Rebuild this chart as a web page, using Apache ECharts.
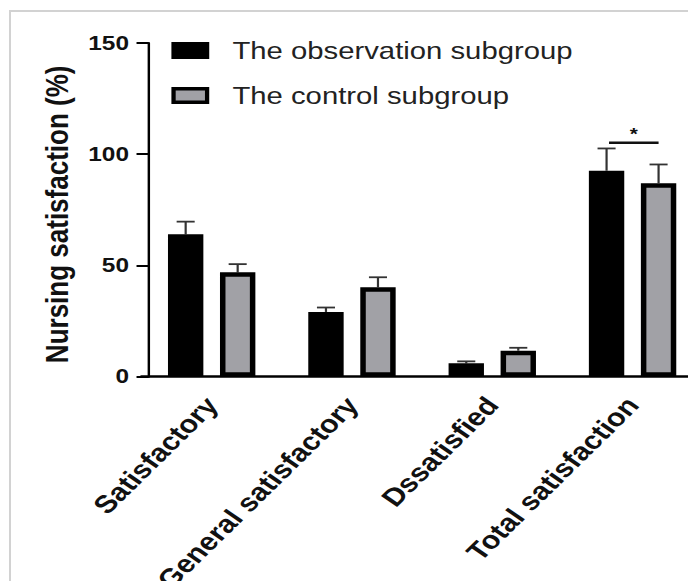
<!DOCTYPE html>
<html>
<head>
<meta charset="utf-8">
<script src="https://cdn.jsdelivr.net/npm/echarts@6/dist/echarts.min.js"></script>
<style>
  html, body { margin: 0; padding: 0; background: #fff; overflow: hidden; }
  #frame { position: absolute; left: 9px; top: 10px; width: 900px; height: 800px;
           border-left: 2px solid #d2d2d2; border-top: 2px solid #d2d2d2; }
  #chart { position: absolute; left: 0; top: 0; width: 564px; height: 581px;
           transform: scaleX(1.22); transform-origin: 0 0; }
</style>
</head>
<body>
<div id="frame"></div>
<div id="chart"></div>
<script>
// ---- data ----
const categories = ['Satisfactory', 'General satisfactory', 'Dssatisfied', 'Total satisfaction'];
const seriesNames = ['The observation subgroup', 'The control subgroup'];
const observation = [64.0, 29.1, 6.0, 92.6];
const observationSD = [5.7, 2.0, 0.9, 10.0];
const control = [46.9, 40.2, 11.7, 87.0];
const controlSD = [3.7, 4.5, 1.3, 8.4];
const yTicks = [0, 50, 100, 150];
// significance bracket: [category index, bracket level, asterisk level]
const significance = [[3, 105.2, 109.0]];

// ---- styling constants ----
const FONT = '"Liberation Sans", Arial, Helvetica, sans-serif';
const BAR_W = 29;
const BAR_GAP = 0.47;
const OFF = (BAR_W + BAR_W * BAR_GAP) / 2;
const CAP = 7.4;

const chart = echarts.init(document.getElementById('chart'), null, { renderer: 'svg' });

function errItems(vals, sds) {
  return vals.map((v, i) => [i, v, +(v + sds[i]).toFixed(2)]);
}

function makeErrRender(sign) {
  return function (params, api) {
    const i = api.value(0), v = api.value(1), up = api.value(2);
    const b = api.coord([i, v]);
    const t = api.coord([i, up]);
    const x = b[0] + sign * OFF;
    const st = { stroke: '#333', lineWidth: 1.8 };
    return {
      type: 'group',
      children: [
        { type: 'line', shape: { x1: x, y1: b[1], x2: x, y2: t[1] }, style: st },
        { type: 'line', shape: { x1: x - CAP, y1: t[1], x2: x + CAP, y2: t[1] }, style: st }
      ]
    };
  };
}

function renderSig(params, api) {
  const i = api.value(0), lv = api.value(1), sv = api.value(2);
  const p = api.coord([i, lv]);
  const s = api.coord([i, sv]);
  return {
    type: 'group',
    children: [
      { type: 'line', shape: { x1: p[0] - OFF + 2, y1: p[1], x2: p[0] + OFF, y2: p[1] },
        style: { stroke: '#111', lineWidth: 2.5 } },
      { type: 'text', x: s[0] + 1, y: s[1],
        style: { text: '*', fill: '#111', font: 'bold 17px ' + FONT, align: 'center', verticalAlign: 'middle' } }
    ]
  };
}

const option = {
  animation: false,
  grid: { left: 116, width: 460, top: 43, bottom: 204.3, containLabel: false, outerBoundsMode: 'none' },
  legend: {
    orient: 'vertical',
    left: 135.5,
    top: 33.5,
    icon: 'rect',
    itemWidth: 27.5,
    itemHeight: 13.5,
    itemGap: 21,
    itemStyle: { borderWidth: 3.5, borderColor: '#000' },
    selectedMode: false,
    textStyle: { fontFamily: FONT, fontSize: 24, lineHeight: 24, color: '#222', padding: [0, 0, 0, 15.75] },
    data: seriesNames
  },
  xAxis: {
    type: 'category',
    data: categories,
    boundaryGap: true,
    axisLine: { lineStyle: { color: '#000', width: 2.5 } },
    axisTick: { alignWithLabel: true, length: 12, lineStyle: { color: '#000', width: 2 } },
    axisLabel: { interval: 0, rotate: 50, margin: 24, fontFamily: FONT, fontSize: 25, fontWeight: 'bold', color: '#111' },
    splitLine: { show: false }
  },
  yAxis: {
    type: 'value',
    min: yTicks[0],
    max: yTicks[yTicks.length - 1],
    interval: yTicks[1] - yTicks[0],
    offset: -5.7,
    name: 'Nursing satisfaction (%)',
    nameLocation: 'middle',
    nameGap: 62,
    nameTextStyle: { fontFamily: FONT, fontSize: 26, fontWeight: 'bold', color: '#111', padding: [0, 9, 0, 0] },
    axisLine: { show: true, lineStyle: { color: '#000', width: 2 } },
    axisTick: { show: true, length: 9.8, lineStyle: { color: '#000', width: 2 } },
    axisLabel: { margin: 16, fontFamily: FONT, fontSize: 20, fontWeight: 'bold', color: '#111' },
    splitLine: { show: false }
  },
  series: [
    {
      name: seriesNames[0], type: 'bar', data: observation,
      barWidth: BAR_W, barGap: (BAR_GAP * 100) + '%',
      itemStyle: { color: '#000', borderColor: '#000', borderWidth: 4.5 },
      z: 2
    },
    {
      name: seriesNames[1], type: 'bar', data: control,
      barWidth: BAR_W, barGap: (BAR_GAP * 100) + '%',
      itemStyle: { color: '#a1a1a6', borderColor: '#000', borderWidth: 4.5 },
      z: 2
    },
    {
      type: 'custom', renderItem: makeErrRender(-1),
      data: errItems(observation, observationSD),
      encode: { x: 0, y: [1, 2] }, z: 1, silent: true
    },
    {
      type: 'custom', renderItem: makeErrRender(1),
      data: errItems(control, controlSD),
      encode: { x: 0, y: [1, 2] }, z: 1, silent: true
    },
    {
      type: 'custom', renderItem: renderSig,
      data: significance,
      encode: { x: 0, y: [1, 2] }, z: 3, silent: true
    }
  ]
};

chart.setOption(option);
</script>
</body>
</html>
